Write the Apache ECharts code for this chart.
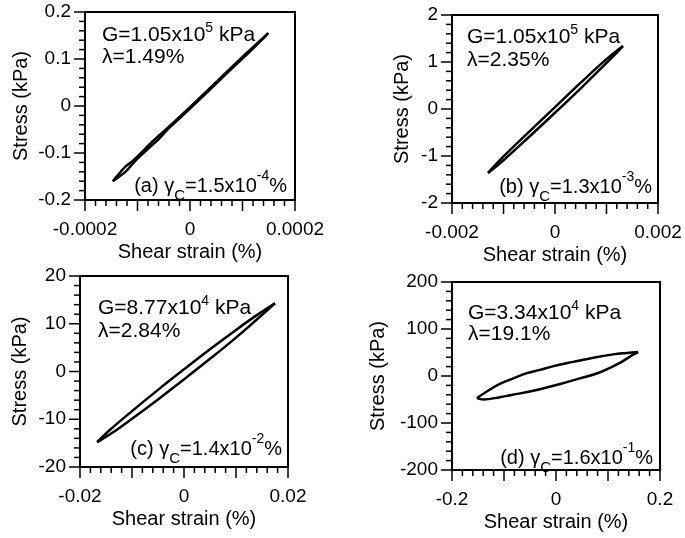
<!DOCTYPE html>
<html>
<head>
<meta charset="utf-8">
<script src="https://cdn.jsdelivr.net/npm/echarts@6/dist/echarts.min.js"></script>
<style>html,body{margin:0;padding:0;background:#fff}#c{width:685px;height:538px}</style>
</head>
<body>
<div id="c"></div>
<script>
// ---------- DATA ----------
// panel (a)
const loopA_upper = [[-0.000147,-0.160],[-0.000132,-0.140],[-0.000122,-0.128],[-0.000110,-0.118],[-0.000072,-0.076],[-0.000062,-0.066],[-0.000040,-0.044],[0,-0.0025],[0.000040,0.040],[0.000080,0.083],[0.000120,0.125],[0.000149,0.155]];
const loopA_lower = [[-0.000147,-0.160],[-0.000132,-0.148],[-0.000122,-0.139],[-0.000100,-0.112],[-0.000072,-0.083],[-0.000062,-0.073],[-0.000040,-0.047],[0,-0.0055],[0.000040,0.037],[0.000080,0.080],[0.000120,0.122],[0.000149,0.155]];
// panel (b)
const loopB_upper = [[-0.0013,-1.36],[-0.001,-1.01],[-0.0005,-0.48],[0,0.04],[0.0005,0.56],[0.001,1.06],[0.00132,1.34]];
const loopB_lower = [[-0.0013,-1.36],[-0.001,-1.09],[-0.0005,-0.59],[0,-0.08],[0.0005,0.44],[0.001,0.98],[0.00132,1.34]];
// panel (c)
const loopC_upper = [[-0.0167,-14.8],[-0.014,-12.0],[-0.010,-8.3],[-0.005,-3.85],[0,0.45],[0.005,4.65],[0.010,8.7],[0.014,11.8],[0.0175,14.3]];
const loopC_lower = [[-0.0167,-14.8],[-0.014,-13.0],[-0.010,-9.9],[-0.005,-5.85],[0,-1.65],[0.005,2.65],[0.010,7.1],[0.014,10.9],[0.0175,14.3]];
// panel (d)
const loopD_upper = [[-0.152,-47],[-0.133,-33],[-0.108,-17],[-0.082,-5],[-0.056,6],[-0.031,13],[-0.005,21],[0.033,30],[0.072,39],[0.110,46],[0.136,49],[0.158,51]];
const loopD_lower = [[-0.152,-47],[-0.140,-50],[-0.108,-45],[-0.069,-37],[-0.031,-28],[0.008,-17],[0.046,-5],[0.085,8],[0.123,28],[0.149,46],[0.158,51]];

// tick labels
const xLabelsA = ['-0.0002','0','0.0002'];
const yLabelsA = ['0.2','0.1','0','-0.1','-0.2'];
const xLabelsB = ['-0.002','0','0.002'];
const yLabelsB = ['2','1','0','-1','-2'];
const xLabelsC = ['-0.02','0','0.02'];
const yLabelsC = ['20','10','0','-10','-20'];
const xLabelsD = ['-0.2','0','0.2'];
const yLabelsD = ['200','100','0','-100','-200'];
// major tick positions
const xTicksA = [-0.0002,-0.0001,0,0.0001,0.0002];
const yTicksA = [-0.2,-0.1,0,0.1,0.2];
const xTicksB = [-0.002,-0.001,0,0.001,0.002];
const yTicksB = [-2,-1,0,1,2];
const xTicksC = [-0.02,-0.01,0,0.01,0.02];
const yTicksC = [-20,-10,0,10,20];
const xTicksD = [-0.2,-0.1,0,0.1,0.2];
const yTicksD = [-200,-100,0,100,200];

const xName = 'Shear strain (%)';
const yName = 'Stress (kPa)';
const annotG = [['1.05','5'],['1.05','5'],['8.77','4'],['3.34','4']];
const annotL = ['1.49%','2.35%','2.84%','19.1%'];
const annotC = [['a','1.5','-4'],['b','1.3','-3'],['c','1.4','-2'],['d','1.6','-1']];

// ---------- LAYOUT / STYLE ----------
const FF = '"Liberation Sans", Arial, sans-serif';
const grids = [
  {left:85, top:12, width:210, height:188},
  {left:452, top:15, width:206, height:188},
  {left:80, top:276, width:208, height:191},
  {left:452, top:282, width:208, height:188}
];
const panels = [
  {xl:xLabelsA, yl:yLabelsA, xt:xTicksA, yt:yTicksA, yGap:54},
  {xl:xLabelsB, yl:yLabelsB, xt:xTicksB, yt:yTicksB, yGap:40},
  {xl:xLabelsC, yl:yLabelsC, xt:xTicksC, yt:yTicksC, yGap:50},
  {xl:xLabelsD, yl:yLabelsD, xt:xTicksD, yt:yTicksD, yGap:64}
];
const loops = [[loopA_upper,loopA_lower],[loopB_upper,loopB_lower],[loopC_upper,loopC_lower],[loopD_upper,loopD_lower]];

function rangeOf(labels){
  const v = labels.map(parseFloat);
  const mn = Math.min.apply(null, v), mx = Math.max.apply(null, v);
  return {min:mn, max:mx, step:(mx - mn) / (labels.length - 1)};
}
// tick items: [value, direction(0 = x, 1 = y), major(1) / minor(0)]
function tickItems(ticks, dir){
  const out = [];
  for (let k = 0; k < ticks.length; k++) {
    out.push([ticks[k], dir, 1]);
    if (k < ticks.length - 1) {
      for (let j = 1; j < 5; j++) out.push([ticks[k] + (ticks[k+1] - ticks[k]) * j / 5, dir, 0]);
    }
  }
  return out;
}

const xAxis = [], yAxis = [], series = [];
panels.forEach((p,i) => {
  const rx = rangeOf(p.xl), ry = rangeOf(p.yl);
  xAxis.push({gridIndex:i, type:'value', min:rx.min, max:rx.max, interval:rx.step,
    axisLine:{show:true, onZero:false, lineStyle:{color:'#000', width:2}},
    axisTick:{show:false}, minorTick:{show:false}, splitLine:{show:false},
    name:xName, nameLocation:'middle', nameGap:42,
    nameTextStyle:{fontFamily:FF, fontSize:20, color:'#000'},
    axisLabel:{margin:20, fontFamily:FF, fontSize:19, color:'#000'}});
  yAxis.push({gridIndex:i, type:'value', min:ry.min, max:ry.max, interval:ry.step,
    axisLine:{show:true, onZero:false, lineStyle:{color:'#000', width:2}},
    axisTick:{show:false}, minorTick:{show:false}, splitLine:{show:false},
    name:yName, nameLocation:'middle', nameGap:p.yGap,
    nameTextStyle:{fontFamily:FF, fontSize:20, color:'#000'},
    axisLabel:{margin:14, fontFamily:FF, fontSize:19, color:'#000'}});
  loops[i].forEach(br => series.push({type:'line', xAxisIndex:i, yAxisIndex:i, data:br,
    showSymbol:false, smooth:0.4, lineStyle:{color:'#000', width:2.5}, z:3}));
  // axis tick marks, placed through the axes' own scales
  const xMin = rx.min, yMin = ry.min;
  series.push({
    type:'custom', coordinateSystem:'cartesian2d', xAxisIndex:i, yAxisIndex:i, clip:false, silent:true, z:4,
    data: tickItems(p.xt, 0).concat(tickItems(p.yt, 1)),
    renderItem: function(params, api){
      const v = api.value(0), dir = api.value(1), len = api.value(2) ? 11 : 6;
      if (dir === 0) {
        const pt = api.coord([v, yMin]);
        return {type:'line', shape:{x1:pt[0], y1:pt[1], x2:pt[0], y2:pt[1] + len}, style:{stroke:'#000', lineWidth:1.5}};
      }
      const pt = api.coord([xMin, v]);
      return {type:'line', shape:{x1:pt[0] - len, y1:pt[1], x2:pt[0], y2:pt[1]}, style:{stroke:'#000', lineWidth:1.5}};
    }
  });
});

const rich = {
  t:{fontFamily:FF, fontSize:21, lineHeight:27, color:'#000'},
  s:{fontFamily:FF, fontSize:14, lineHeight:14, verticalAlign:'top', color:'#000'},
  t2:{fontFamily:FF, fontSize:20, lineHeight:34, color:'#000'},
  s2:{fontFamily:FF, fontSize:14, lineHeight:18, verticalAlign:'top', color:'#000'},
  b2:{fontFamily:FF, fontSize:15, lineHeight:15, verticalAlign:'bottom', color:'#000'}
};
const annPos = [
  {gx:102, gy:35, ly:57, rx:287, ry:186},
  {gx:467, gy:37, ly:60, rx:652, ry:187},
  {gx:98, gy:308, ly:331, rx:282, ry:449},
  {gx:468, gy:313, ly:334, rx:653, ry:458}
];
const graphic = [];
annPos.forEach((p,i) => {
  graphic.push({type:'text', x:p.gx, y:p.gy, style:{text:'{t|G=' + annotG[i][0] + 'x10}{s|' + annotG[i][1] + '}{t| kPa}', rich:rich, align:'left', verticalAlign:'middle'}});
  graphic.push({type:'text', x:p.gx, y:p.ly, style:{text:'{t|λ=' + annotL[i] + '}', rich:rich, align:'left', verticalAlign:'middle'}});
  graphic.push({type:'text', x:p.rx, y:p.ry, style:{text:'{t2|(' + annotC[i][0] + ') γ}{b2|C}{t2|=' + annotC[i][1] + 'x10}{s2|' + annotC[i][2] + '}{t2|%}', rich:rich, align:'right', verticalAlign:'middle'}});
});

const chart = echarts.init(document.getElementById('c'), null, {renderer:'canvas'});
chart.setOption({
  animation:false,
  grid: grids.map(g => Object.assign({show:true, borderColor:'#000', borderWidth:2}, g)),
  xAxis, yAxis, series, graphic
});
</script>
</body>
</html>
